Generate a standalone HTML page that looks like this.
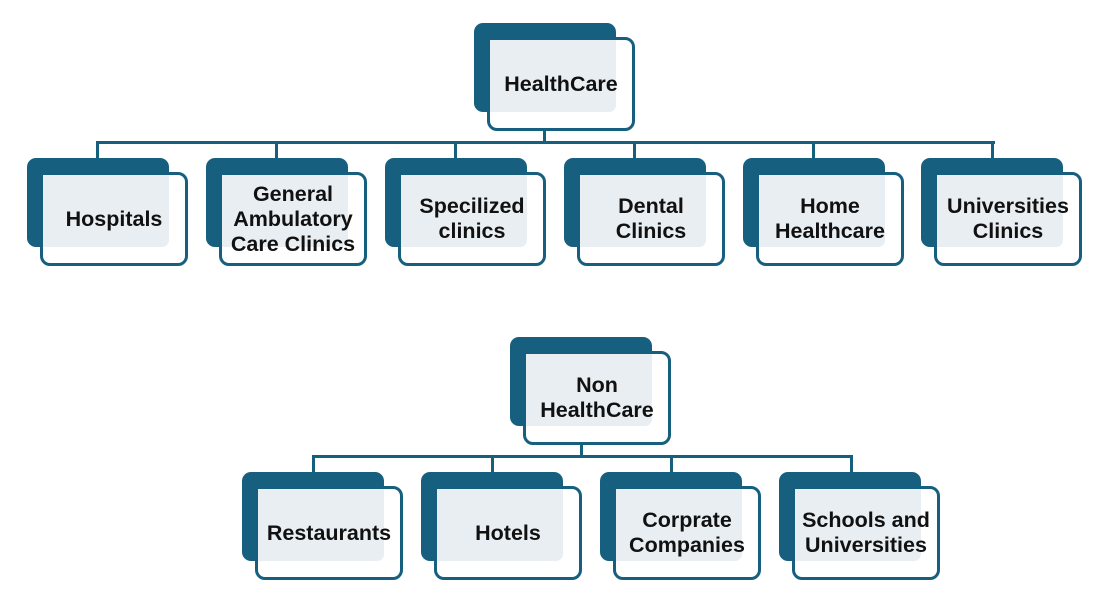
<!DOCTYPE html>
<html><head><meta charset="utf-8"><style>
body{margin:0;width:1100px;height:604px;background:#fff;position:relative;overflow:hidden;font-family:"Liberation Sans",sans-serif}
.n{position:absolute;width:162px;height:108px}
.b{position:absolute;left:0;top:0;width:142px;height:89px;background:#175f7f;border-radius:9px}
.f{position:absolute;left:13px;top:14px;width:142px;height:88px;border:3px solid #175f7f;border-radius:10px;background:#fff}
.l{position:absolute;left:16px;top:17px;width:126px;height:72px;background:#e8eef2;border-radius:0 0 7px 0}
.t{position:absolute;left:16px;top:17px;width:142px;height:88px;display:flex;align-items:center;justify-content:center;text-align:center;font-weight:bold;font-size:21.5px;line-height:25px;color:#111;white-space:nowrap}
.h{position:absolute;height:3px;background:#175f7f}
.v{position:absolute;width:3px;background:#175f7f}
</style></head><body>
<div class="h" style="left:96px;top:141px;width:899px"></div>
<div class="v" style="left:543px;top:129px;height:14px"></div>
<div class="v" style="left:96px;top:141px;height:18px"></div>
<div class="v" style="left:275px;top:141px;height:18px"></div>
<div class="v" style="left:454px;top:141px;height:18px"></div>
<div class="v" style="left:633px;top:141px;height:18px"></div>
<div class="v" style="left:812px;top:141px;height:18px"></div>
<div class="v" style="left:991px;top:141px;height:18px"></div>

<div class="h" style="left:312px;top:455px;width:541px"></div>
<div class="v" style="left:580px;top:443px;height:14px"></div>
<div class="v" style="left:312px;top:455px;height:18px"></div>
<div class="v" style="left:491px;top:455px;height:18px"></div>
<div class="v" style="left:670px;top:455px;height:18px"></div>
<div class="v" style="left:850px;top:455px;height:18px"></div>

<div class="n" style="left:474px;top:23px"><div class="b"></div><div class="f"></div><div class="l"></div><div class="t">HealthCare</div></div>

<div class="n" style="left:27px;top:158px"><div class="b"></div><div class="f"></div><div class="l"></div><div class="t">Hospitals</div></div>
<div class="n" style="left:206px;top:158px"><div class="b"></div><div class="f"></div><div class="l"></div><div class="t">General<br>Ambulatory<br>Care Clinics</div></div>
<div class="n" style="left:385px;top:158px"><div class="b"></div><div class="f"></div><div class="l"></div><div class="t">Specilized<br>clinics</div></div>
<div class="n" style="left:564px;top:158px"><div class="b"></div><div class="f"></div><div class="l"></div><div class="t">Dental<br>Clinics</div></div>
<div class="n" style="left:743px;top:158px"><div class="b"></div><div class="f"></div><div class="l"></div><div class="t">Home<br>Healthcare</div></div>
<div class="n" style="left:921px;top:158px"><div class="b"></div><div class="f"></div><div class="l"></div><div class="t">Universities<br>Clinics</div></div>

<div class="n" style="left:510px;top:337px"><div class="b"></div><div class="f"></div><div class="l"></div><div class="t">Non<br>HealthCare</div></div>

<div class="n" style="left:242px;top:472px"><div class="b"></div><div class="f"></div><div class="l"></div><div class="t">Restaurants</div></div>
<div class="n" style="left:421px;top:472px"><div class="b"></div><div class="f"></div><div class="l"></div><div class="t">Hotels</div></div>
<div class="n" style="left:600px;top:472px"><div class="b"></div><div class="f"></div><div class="l"></div><div class="t">Corprate<br>Companies</div></div>
<div class="n" style="left:779px;top:472px"><div class="b"></div><div class="f"></div><div class="l"></div><div class="t">Schools and<br>Universities</div></div>
</body></html>
